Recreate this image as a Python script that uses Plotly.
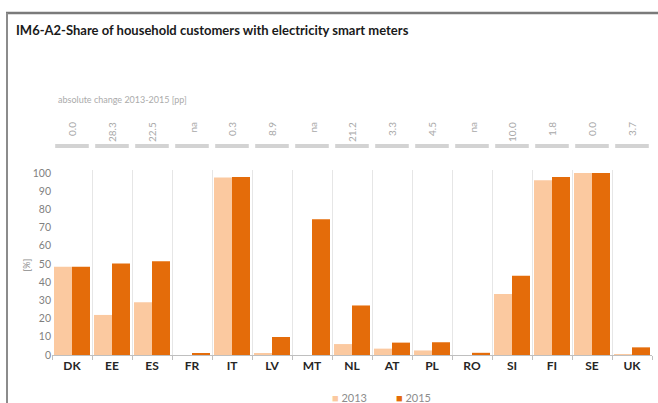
import plotly.graph_objects as go

countries = ["DK", "EE", "ES", "FR", "IT", "LV", "MT", "NL", "AT", "PL", "RO", "SI", "FI", "SE", "UK"]
share_2013 = [48.5, 22.0, 29.0, 0.0, 97.5, 1.0, 0.0, 6.0, 3.5, 2.5, 0.0, 33.5, 96.0, 100.0, 0.5]
share_2015 = [48.5, 50.3, 51.5, 1.0, 97.8, 9.9, 74.5, 27.2, 6.8, 7.0, 1.2, 43.5, 97.8, 100.0, 4.2]
change_labels = ["0.0", "28.3", "22.5", "na", "0.3", "8.9", "na", "21.2", "3.3", "4.5", "na", "10.0", "1.8", "0.0", "3.7"]
series_names = ["2013", "2015"]

FONT = "Lato"
C13 = "#FBC9A0"
C15 = "#E46C0A"
colors = [C13, C15]

fig = go.Figure()
for name, vals, col in zip(series_names, [share_2013, share_2015], colors):
    fig.add_trace(go.Bar(x=countries, y=vals, name=name, marker_color=col, marker_line_width=0))

# plot area pixels: x 52..652, y 170..355
L, R, T, B = 52, 6, 170, 48
W, H = 658 - L - R, 403 - T - B

def py(px):
    return (403 - B - px) / H

def px_x(px):
    return (px - L) / W

annotations = []
shapes = []
for i, lab in enumerate(change_labels):
    annotations.append(dict(x=countries[i], xref="x", y=py(120), yref="paper", text=lab,
                            showarrow=False, textangle=-90,
                            font=dict(family=FONT, size=10, color="#A8A8A8")))
    shapes.append(dict(type="rect", xref="x", yref="paper", x0=i - 0.42, x1=i + 0.42,
                       y0=py(148), y1=py(144), fillcolor="#D3D3D3", line_width=0))

annotations.append(dict(x=px_x(56), xref="paper", y=py(92), yref="paper", xanchor="left",
                        text="absolute change 2013-2015 [pp]", showarrow=False,
                        font=dict(family=FONT, size=9, color="#ABABAB")))
annotations.append(dict(x=px_x(14), xref="paper", y=py(30), yref="paper", xanchor="left",
                        yanchor="middle", showarrow=False,
                        text="<b>IM6-A2-Share of household customers with electricity smart meters</b>",
                        font=dict(family=FONT, size=13, color="#1A1A1A")))
annotations.append(dict(x=px_x(18), xref="paper", y=py(265), yref="paper", textangle=-90,
                        showarrow=False, text="[%]",
                        font=dict(family=FONT, size=9, color="#8C8C8C")))

# legend drawn as text
for name, col, xpx in zip(series_names, colors, [330, 394]):
    annotations.append(dict(x=px_x(xpx), xref="paper", y=py(397), yref="paper", xanchor="left",
                            yanchor="middle", showarrow=False,
                            text=f"<span style='color:{col}'>■</span> {name}",
                            font=dict(family=FONT, size=11, color="#8C8C8C")))

# outer frame (top and left edges)
shapes.append(dict(type="line", xref="paper", yref="paper", x0=px_x(6), x1=px_x(658),
                   y0=py(13), y1=py(13), line=dict(color="#7A7A7A", width=2.5), layer="above"))
shapes.append(dict(type="line", xref="paper", yref="paper", x0=px_x(7), x1=px_x(7),
                   y0=py(13), y1=py(403), line=dict(color="#8C8C8C", width=2), layer="above"))

fig.update_layout(
    width=658, height=403,
    margin=dict(l=L, r=R, t=T, b=B, autoexpand=False),
    paper_bgcolor="white", plot_bgcolor="white",
    barmode="group", bargap=0.1, bargroupgap=0.0,
    font=dict(family=FONT),
    xaxis=dict(type="category", tickson="boundaries", showgrid=True, gridcolor="#E6E6E6",
               gridwidth=1, ticks="outside", ticklen=4, tickcolor="#BFBFBF",
               showline=True, linecolor="#BFBFBF", linewidth=1, automargin=False,
               tickfont=dict(family=FONT, size=12, color="#262626"),
               tickprefix="<b>", ticksuffix="</b>"),
    yaxis=dict(range=[0, 101.6], tickvals=list(range(0, 101, 10)), showgrid=False,
               zeroline=False, showline=False, automargin=False,
               tickfont=dict(family=FONT, size=10.5, color="#7F7F7F")),
    annotations=annotations,
    shapes=shapes,
    showlegend=False,
)

fig.write_html("out.html", config={"displayModeBar": False},
               post_script="document.body.style.margin='0px';document.body.style.overflow='hidden';")
